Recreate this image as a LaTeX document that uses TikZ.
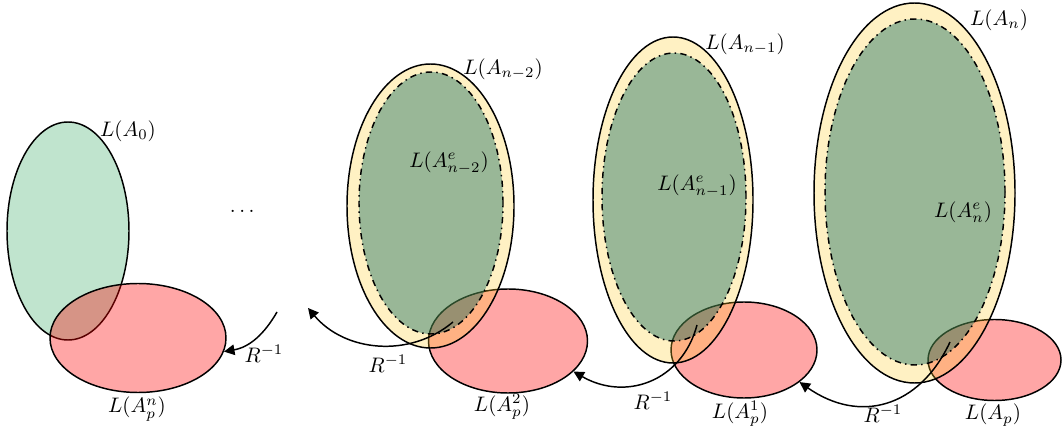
\documentclass[tikz,border=0pt]{standalone}
\usepackage{amsmath}
\usepackage{tikz}
\usetikzlibrary{shapes.geometric,arrows.meta}

\definecolor{langyellow}{RGB}{255,204,41}
\definecolor{coregreen}{RGB}{0,98,86}
\definecolor{startgreen}{RGB}{45,165,92}
\newcommand{\pxl}{0.476pt}

\begin{document}
\begin{tikzpicture}[
  x=0.476pt, y=-0.476pt,
  set/.style={ellipse, draw, line width=0.7pt, inner sep=0pt},
  lang/.style={set, fill=langyellow, fill opacity=0.28},
  core/.style={set, dash dot, fill=coregreen, fill opacity=0.4},
  pre/.style={set, fill=red, fill opacity=0.35},
  init/.style={set, fill=startgreen, fill opacity=0.3},
  back/.style={-{Triangle[length=5pt,width=5pt]}, line width=0.7pt},
  every node/.style={font=\normalsize}
]
\useasboundingbox (0,0) rectangle (1062,432);

\node[init, minimum width=122*\pxl, minimum height=218*\pxl] (A0) at (68,231) {};
\node[pre, minimum width=176*\pxl, minimum height=109*\pxl] (Apn) at (138,338) {};

\node[pre, minimum width=159*\pxl, minimum height=104*\pxl] (Ap2) at (508,341) {};
\node[lang, minimum width=167*\pxl, minimum height=284*\pxl] (An2) at (430.5,206) {};
\node[core, minimum width=144*\pxl, minimum height=262*\pxl] (An2e) at (431,203) {};

\node[pre, minimum width=146*\pxl, minimum height=96*\pxl] (Ap1) at (744,350) {};
\node[lang, minimum width=160*\pxl, minimum height=326*\pxl] (An1) at (673,200) {};
\node[core, minimum width=144*\pxl, minimum height=288*\pxl] (An1e) at (674,197) {};

\node[pre, minimum width=133*\pxl, minimum height=81*\pxl] (Ap) at (994.5,360) {};
\node[lang, minimum width=201*\pxl, minimum height=380*\pxl] (An) at (914.5,193) {};
\node[core, minimum width=180*\pxl, minimum height=346*\pxl] (Ane) at (915,192) {};

\node (lA0) at (128,131) {$L(A_0)$};
\node (lApn) at (137,409) {$L(A_p^n)$};
\node (dots) at (244,211) {$\dots$};
\node (lAn2) at (503,69) {$L(A_{n-2})$};
\node (lAn2e) at (449,163) {$L(A^e_{n-2})$};
\node (lAp2) at (502,407) {$L(A_p^2)$};
\node (lAn1) at (745,44) {$L(A_{n-1})$};
\node (lAn1e) at (697,186) {$L(A^e_{n-1})$};
\node (lAp1) at (740,414) {$L(A_p^1)$};
\node (lAn) at (999,20) {$L(A_n)$};
\node (lAne) at (963,212) {$L(A^e_n)$};
\node (lAp) at (993,415) {$L(A_p)$};

\node (r1) at (264,354) {$R^{-1}$};
\node (r2) at (388,364) {$R^{-1}$};
\node (r3) at (653,401) {$R^{-1}$};
\node (r4) at (883,414) {$R^{-1}$};

\coordinate (s1) at (277,312);
\coordinate (s2) at (453,322);
\coordinate (t2) at (308,308);
\coordinate (s3) at (697,325);
\coordinate (s4) at (950,342);

\draw[back] (s1) to[out=-120, in=10] (Apn.-9);
\draw[back] (s2) to[out=-140, in=-50] (t2);
\draw[back] (s3) to[out=-105, in=-30, looseness=1.15] (Ap2.-25);
\draw[back] (s4) to[out=-115, in=-35, looseness=1.2] (Ap1.-30);

\end{tikzpicture}
\end{document}
